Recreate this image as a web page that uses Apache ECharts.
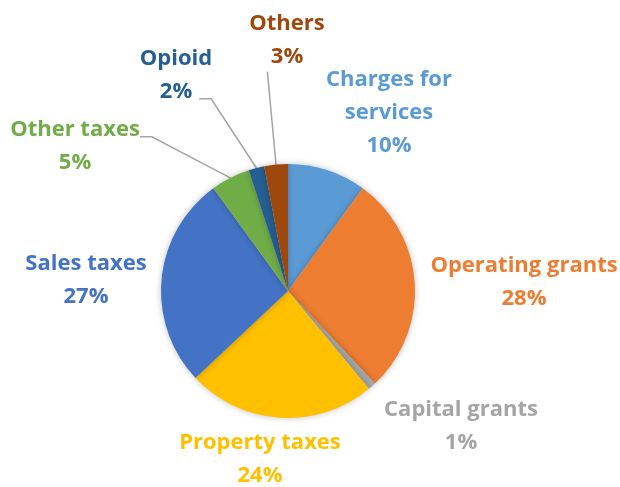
<!DOCTYPE html>
<html>
<head>
<meta charset="utf-8">
<script src="https://cdn.jsdelivr.net/npm/echarts@6/dist/echarts.min.js"></script>
<style>
  html, body { margin: 0; padding: 0; background: #fff; }
  #chart { width: 620px; height: 487px; }
</style>
</head>
<body>
<div id="chart"></div>
<script>
// slices, clockwise from 12 o'clock
const categories = ['Charges for\nservices', 'Operating grants', 'Capital grants', 'Property taxes',
  'Sales taxes', 'Other taxes', 'Opioid', 'Others'];
const shares = [10, 28, 1, 24, 27, 5, 2, 3];
const colors = ['#5B9BD5', '#ED7D31', '#A5A5A5', '#FFC000', '#4472C4', '#70AD47', '#255E91', '#9E480E'];

// where each label block sits (centre of text)
const labelPos = [
  [389, 113], [524, 282], [461, 426], [260, 459],
  [86, 280], [75, 146], [176, 75], [287, 40]
];
// leader line attach point as fraction of label box, null = no line
const lineAnchor = [null, null, null, null, null, [1.0, 0.36], [0.82, 0.86], [0.24, 0.98]];
const lineElbow = [0, 0, 0, 0, 0, 12, 12, 0];

const chart = echarts.init(document.getElementById('chart'));
chart.setOption({
  animation: false,
  series: [{
    type: 'pie',
    center: [288, 291],
    radius: 127,
    startAngle: 90,
    clockwise: true,
    itemStyle: {
      shadowBlur: 6,
      shadowColor: 'rgba(0,0,0,0.25)'
    },
    label: {
      show: true,
      formatter: p => p.name + '\n' + p.value + '%',
      fontFamily: 'Open Sans',
      fontWeight: 'bold',
      fontSize: 22,
      lineHeight: 33,
      align: 'center',
      overflow: 'none'
    },
    labelLine: {
      lineStyle: { color: '#A5A5A5', width: 1.5 },
      length: 10,
      length2: 12
    },
    labelLayout: params => {
      const i = params.dataIndex;
      const [cx, cy] = labelPos[i];
      const out = { x: cx, y: cy, align: 'center', verticalAlign: 'middle' };
      const a = lineAnchor[i];
      if (a && params.labelLinePoints) {
        const w = params.labelRect.width, h = params.labelRect.height;
        const ax = cx - w / 2 + a[0] * w, ay = cy - h / 2 + a[1] * h;
        const p0 = params.labelLinePoints[0];
        out.labelLinePoints = [p0, [ax + lineElbow[i], ay], [ax, ay]];
      }
      return out;
    },
    data: categories.map((c, i) => ({
      name: c,
      value: shares[i],
      itemStyle: { color: colors[i] },
      label: { color: colors[i] },
      labelLine: { show: lineAnchor[i] !== null }
    }))
  }]
});
</script>
</body>
</html>
